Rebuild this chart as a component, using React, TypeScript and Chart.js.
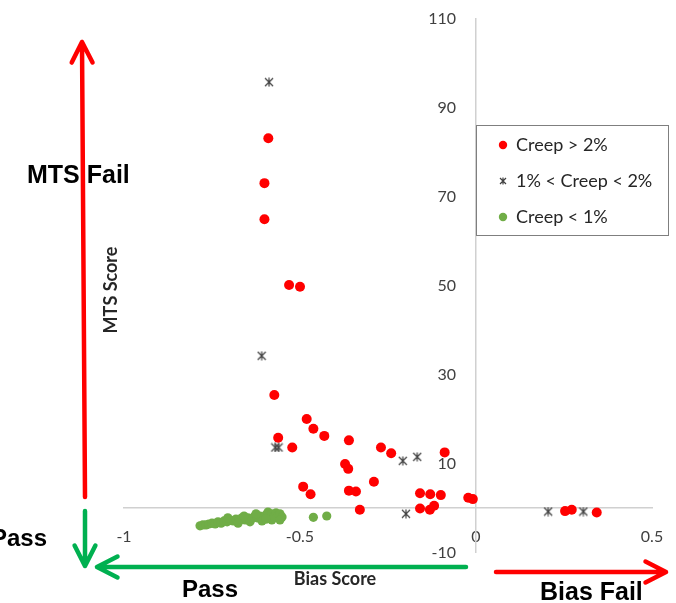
import React, { useEffect, useRef } from 'react';
import { Chart, registerables } from 'chart.js';

Chart.register(...registerables);

// ---- data ----
const xTickValues = [-1, -0.5, 0, 0.5];
const yTickValues = [-10, 10, 30, 50, 70, 90, 110];
const seriesNames = ['Creep > 2%', '1% < Creep < 2%', 'Creep < 1%'];

const redX = [-0.59, -0.601, -0.601, -0.531, -0.5, -0.573, -0.481, -0.462, -0.431, -0.562, -0.522, -0.361, -0.372, -0.363, -0.27, -0.241, -0.089, -0.491, -0.47, -0.361, -0.341, -0.29, -0.33, -0.159, -0.13, -0.1, -0.159, -0.131, -0.119, -0.022, -0.009, 0.253, 0.272, 0.343];
const redY = [83.1, 73.0, 64.9, 50.1, 49.7, 25.4, 20.0, 17.8, 16.2, 15.8, 13.6, 15.2, 9.9, 8.8, 13.6, 12.3, 12.5, 4.8, 3.1, 3.9, 3.7, 5.9, -0.4, 3.3, 3.1, 2.9, -0.1, -0.4, 0.5, 2.3, 2.0, -0.7, -0.4, -1.0];

const starX = [-0.588, -0.609, -0.57, -0.561, -0.208, -0.167, -0.199, 0.205, 0.305];
const starY = [95.7, 34.2, 13.6, 13.6, 10.6, 11.5, -1.3, -0.8, -0.8];

const greenX = [-0.784, -0.776, -0.767, -0.759, -0.75, -0.741, -0.733, -0.724, -0.716, -0.707, -0.699, -0.69, -0.682, -0.673, -0.665, -0.656, -0.648, -0.639, -0.631, -0.622, -0.614, -0.605, -0.597, -0.591, -0.585, -0.58, -0.574, -0.568, -0.563, -0.557, -0.551, -0.705, -0.676, -0.642, -0.608, -0.58, -0.557, -0.659, -0.625, -0.597, -0.462, -0.424];
const greenY = [-4.0, -3.8, -3.8, -3.6, -3.4, -3.6, -3.1, -3.4, -2.9, -3.1, -2.7, -2.9, -2.5, -2.7, -2.2, -2.7, -2.2, -2.5, -2.0, -2.2, -1.8, -2.2, -1.6, -0.9, -2.0, -1.3, -1.8, -1.1, -1.8, -1.3, -2.0, -2.2, -3.4, -3.1, -2.9, -2.7, -2.7, -1.8, -1.3, -2.5, -2.1, -1.8];

const RED = '#ff0000';
const GREEN = '#70ad47';
const STAR = '#404040';

function toPoints(xs: number[], ys: number[]) {
  return xs.map((x, i) => ({ x, y: ys[i] }));
}

function makeStar(size: number, color: string) {
  const c = document.createElement('canvas');
  c.width = size;
  c.height = size;
  const ctx = c.getContext('2d')!;
  ctx.strokeStyle = color;
  ctx.lineWidth = 1.2;
  const a = 1;
  const b = size - 1;
  const m = size / 2;
  ctx.beginPath();
  ctx.moveTo(a, a); ctx.lineTo(b, b);
  ctx.moveTo(b, a); ctx.lineTo(a, b);
  ctx.moveTo(m, a - 0.5); ctx.lineTo(m, b + 0.5);
  ctx.stroke();
  return c;
}

function arrow(ctx: CanvasRenderingContext2D, x1: number, y1: number, x2: number, y2: number, color: string) {
  const ang = Math.atan2(y2 - y1, x2 - x1);
  const len = 23;
  const spread = 0.47;
  ctx.save();
  ctx.strokeStyle = color;
  ctx.lineWidth = 4.5;
  ctx.lineCap = 'round';
  ctx.lineJoin = 'round';
  ctx.beginPath();
  ctx.moveTo(x1, y1);
  ctx.lineTo(x2, y2);
  ctx.moveTo(x2 - len * Math.cos(ang - spread), y2 - len * Math.sin(ang - spread));
  ctx.lineTo(x2, y2);
  ctx.lineTo(x2 - len * Math.cos(ang + spread), y2 - len * Math.sin(ang + spread));
  ctx.stroke();
  ctx.restore();
}

const noPad = (s: any) => {
  s.paddingTop = 0;
  s.paddingBottom = 0;
  s.paddingLeft = 0;
  s.paddingRight = 0;
};

export default function App() {
  const ref = useRef<HTMLCanvasElement>(null);

  useEffect(() => {
    if (!ref.current) return;
    const starImg = makeStar(10, STAR);
    const starLegend = makeStar(8, STAR);

    const shiftYLabels = {
      id: 'shiftYLabels',
      beforeDraw(chart: any) {
        const sc = chart.scales.y;
        const items = sc.getLabelItems(chart.chartArea);
        if (!sc.__shifted) {
          items.forEach((it: any) => { it.options.translation[0] -= 20; });
          sc.__shifted = true;
        }
      },
      afterUpdate(chart: any) {
        chart.scales.y.__shifted = false;
      },
    };

    const overlay = {
      id: 'overlay',
      afterDraw(chart: any) {
        const ctx: CanvasRenderingContext2D = chart.ctx;
        ctx.save();
        // arrows
        arrow(ctx, 85, 497, 82, 42, RED);
        arrow(ctx, 85, 511, 85, 566, '#00b050');
        arrow(ctx, 466, 567, 97, 567, '#00b050');
        arrow(ctx, 496, 572, 666, 572, RED);

        // big labels
        ctx.fillStyle = '#000';
        ctx.textBaseline = 'middle';
        ctx.textAlign = 'left';
        ctx.font = 'bold 25px "Liberation Sans", Arial, sans-serif';
        ctx.fillText('MTS Fail', 27, 176);
        ctx.fillText('Bias Fail', 540, 593);
        ctx.font = 'bold 24px "Liberation Sans", Arial, sans-serif';
        ctx.fillText('Pass', -9, 539);
        ctx.fillText('Pass', 182, 590);

        // axis titles
        ctx.fillStyle = '#262626';
        ctx.font = 'bold 18px Lato, sans-serif';
        ctx.textAlign = 'center';
        ctx.fillText('Bias Score', 335, 579);
        ctx.save();
        ctx.translate(111, 290);
        ctx.rotate(-Math.PI / 2);
        ctx.fillText('MTS Score', 0, 0);
        ctx.restore();

        // legend
        ctx.fillStyle = '#fff';
        ctx.fillRect(476.5, 125.5, 192, 110);
        ctx.strokeStyle = '#7f7f7f';
        ctx.lineWidth = 1;
        ctx.strokeRect(476.5, 125.5, 192, 110);
        const rows = [145, 181, 217];
        ctx.fillStyle = RED;
        ctx.beginPath(); ctx.arc(503, rows[0], 4.2, 0, Math.PI * 2); ctx.fill();
        ctx.drawImage(starLegend, 503 - 4, rows[1] - 4);
        ctx.fillStyle = GREEN;
        ctx.beginPath(); ctx.arc(503, rows[2], 4.2, 0, Math.PI * 2); ctx.fill();
        ctx.fillStyle = '#262626';
        ctx.font = '18px Lato, sans-serif';
        ctx.textAlign = 'left';
        seriesNames.forEach((n, i) => ctx.fillText(n, 516, rows[i]));
        ctx.restore();
      },
    };

    const tickFont = { family: 'Lato, sans-serif', size: 16 };

    const chart = new Chart(ref.current, {
      type: 'scatter',
      data: {
        datasets: [
          { label: seriesNames[0], data: toPoints(redX, redY), pointStyle: 'circle', pointRadius: 5, backgroundColor: RED, borderColor: RED, borderWidth: 0 },
          { label: seriesNames[1], data: toPoints(starX, starY), pointStyle: starImg as any, pointRadius: 5, backgroundColor: STAR, borderColor: STAR },
          { label: seriesNames[2], data: toPoints(greenX, greenY), pointStyle: 'circle', pointRadius: 4.6, backgroundColor: GREEN, borderColor: GREEN, borderWidth: 0 },
        ],
      },
      options: {
        animation: false,
        responsive: false,
        events: [],
        layout: { padding: { left: 124, right: 24, top: 18.5, bottom: 50.5 } },
        plugins: { legend: { display: false }, tooltip: { enabled: false } },
        scales: {
          x: {
            type: 'linear',
            min: -1,
            max: 0.5,
            position: { y: 0 } as any,
            afterBuildTicks: (s: any) => { s.ticks = xTickValues.map((v) => ({ value: v })); },
            afterFit: noPad,
            grid: { display: true, color: 'rgba(0,0,0,0)', drawTicks: false },
            border: { display: true, color: '#d0d0d0', width: 1.5 },
            ticks: { padding: 19, font: tickFont, color: '#404040', maxRotation: 0, autoSkip: false, callback: (v: any) => String(v) },
          },
          y: {
            type: 'linear',
            min: -10,
            max: 110,
            position: { x: 0 } as any,
            afterBuildTicks: (s: any) => { s.ticks = yTickValues.map((v) => ({ value: v })); },
            afterFit: noPad,
            grid: { display: true, color: 'rgba(0,0,0,0)', drawTicks: false },
            border: { display: true, color: '#d0d0d0', width: 1.5 },
            ticks: { padding: 0, font: tickFont, color: '#404040', autoSkip: false, callback: (v: any) => String(v) },
          },
        },
      },
      plugins: [shiftYLabels, overlay],
    });
    return () => chart.destroy();
  }, []);

  return (
    <div style={{ position: 'fixed', left: 0, top: 0, width: 676, height: 603, background: '#fff' }}>
      <canvas ref={ref} width={676} height={603} style={{ display: 'block' }} />
    </div>
  );
}
